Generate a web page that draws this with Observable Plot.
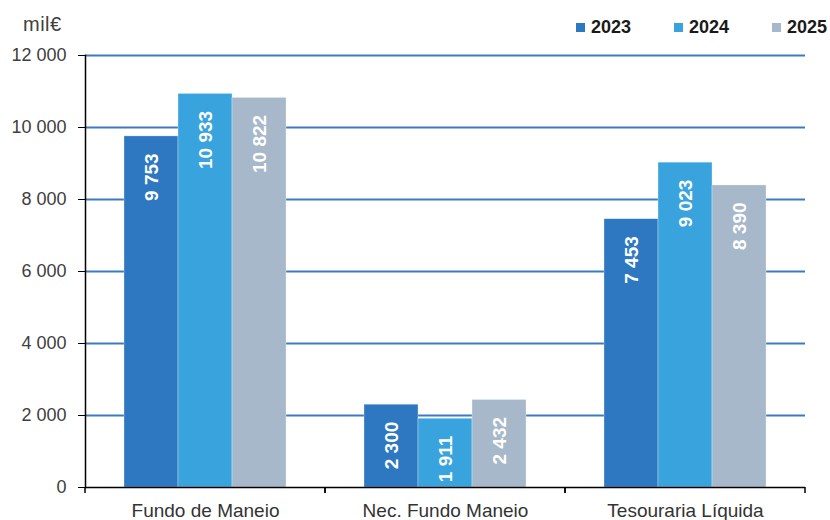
<!DOCTYPE html>
<html>
<head>
<meta charset="utf-8">
<script src="https://cdn.jsdelivr.net/npm/d3@7"></script>
<script src="https://cdn.jsdelivr.net/npm/@observablehq/plot@0.6"></script>
<style>
  html, body { margin: 0; padding: 0; background: #fff; }
  body { width: 830px; height: 520px; overflow: hidden; font-family: "Liberation Sans", Arial, sans-serif; }
  #header { position: relative; height: 40px; }
  #unit { position: absolute; left: 23px; top: 13px; font-size: 20px; letter-spacing: 0.5px; color: #404040; }
  #legend { position: absolute; left: 576px; top: 17px; display: flex; gap: 0; font-weight: bold; font-size: 18px; color: #1a1a1a; }
  .item { display: flex; align-items: center; width: 98px; }
  .sw { width: 9px; height: 9px; margin-right: 6px; }
</style>
</head>
<body>
<div id="header"><div id="unit">mil€</div><div id="legend"></div></div>
<div id="chart"></div>
<script>
const categories = ["Fundo de Maneio", "Nec. Fundo Maneio", "Tesouraria Líquida"];
const years = ["2023", "2024", "2025"];
const v2023 = [9753, 2300, 7453];
const v2024 = [10933, 1911, 9023];
const v2025 = [10822, 2432, 8390];
const yTicks = [0, 2000, 4000, 6000, 8000, 10000, 12000];
const colors = ["#2e78c2", "#39a3de", "#a6b8c9"];

const series = [v2023, v2024, v2025];
const rows = [];
categories.forEach((c, i) => years.forEach((y, j) => rows.push({category: c, year: y, value: series[j][i]})));

const locale = d3.formatLocale({decimal: ",", thousands: " ", grouping: [3], currency: ["", "€"]});
const fmt = locale.format(",d");

const legend = document.getElementById("legend");
years.forEach((y, j) => {
  const it = document.createElement("div");
  it.className = "item";
  it.innerHTML = `<span class="sw" style="background:${colors[j]}"></span><span>${y}</span>`;
  legend.appendChild(it);
});

const boundaryTicks = (index, scales, values, dimensions) => {
  const xs = scales.x;
  const r = typeof xs.range === "function" ? xs.range() : scales.scales.x.range;
  const y0 = scales.y(0);
  const g = d3.create("svg:g");
  for (const x of [r[0], r[r.length - 1]]) {
    g.append("line").attr("x1", x).attr("x2", x).attr("y1", y0).attr("y2", y0 + 6)
      .attr("stroke", "black").attr("stroke-width", 1.5);
  }
  return g.node();
};

const chart = Plot.plot({
  width: 830,
  height: 480,
  marginTop: 15,
  marginBottom: 33,
  marginLeft: 84,
  marginRight: 25,
  style: {fontFamily: "Liberation Sans, Arial, sans-serif", fontSize: "18px", background: "white"},
  fx: {domain: categories, padding: 0, label: null},
  x: {domain: years, paddingInner: 0, paddingOuter: 0.7, axis: null},
  y: {domain: [0, 12000], label: null},
  color: {domain: years, range: colors},
  marks: [
    Plot.gridY(yTicks.filter(d => d > 0), {stroke: "#3a7bc4", strokeOpacity: 1, strokeWidth: 2}),
    Plot.barY(rows, {fx: "category", x: "year", y: "value", fill: "year", stroke: "white", strokeWidth: 0.6, strokeOpacity: 0.5}),
    Plot.text(rows, {fx: "category", x: "year", y: "value", text: d => fmt(d.value), rotate: -90, textAnchor: "end", dy: 17, fill: "white", fontWeight: "bold", fontSize: 19}),
    Plot.ruleY([0], {stroke: "black", strokeWidth: 1.5}),
    Plot.frame({anchor: "left", facetAnchor: "left", stroke: "black", strokeWidth: 1.5}),
    boundaryTicks,
    Plot.axisY({ticks: yTicks, tickFormat: fmt, tickSize: 7, tickPadding: 12, stroke: "black", fill: "#404040", label: null, fontSize: 18}),
    Plot.axisFx({anchor: "bottom", tickSize: 0, tickPadding: 16, label: null, fill: "#333", fontSize: 19})
  ]
});
document.getElementById("chart").appendChild(chart);
</script>
</body>
</html>
